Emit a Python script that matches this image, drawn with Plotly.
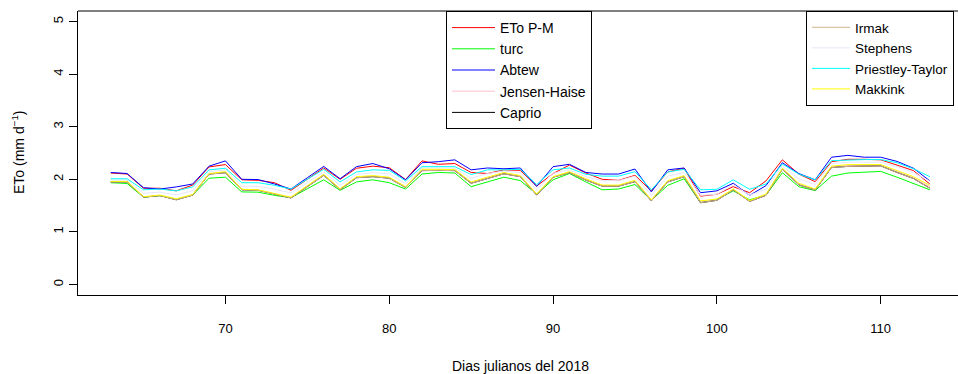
import plotly.graph_objects as go

days = list(range(63, 114))

eto_pm = [2.12, 2.10, 1.83, 1.83, 1.78, 1.89, 2.235, 2.28, 1.99, 1.98, 1.935, 1.79, 2.00, 2.215, 2.00, 2.21, 2.25, 2.22, 1.995, 2.35,
          2.285, 2.30, 2.13, 2.11, 2.18, 2.17, 1.87, 2.11, 2.27, 2.12, 2.00, 1.98, 2.075, 1.78, 2.14, 2.21, 1.68, 1.715, 1.86, 1.745,
          1.97, 2.37, 2.10, 1.955, 2.335, 2.38, 2.38, 2.37, 2.27, 2.165, 1.91]
turc = [1.935, 1.92, 1.66, 1.69, 1.62, 1.70, 2.02, 2.04, 1.76, 1.755, 1.695, 1.65, 1.82, 1.99, 1.79, 1.95, 1.99, 1.935, 1.815, 2.10,
        2.13, 2.12, 1.86, 1.95, 2.04, 1.975, 1.72, 1.99, 2.11, 1.95, 1.80, 1.815, 1.90, 1.60, 1.885, 2.01, 1.555, 1.62, 1.78, 1.61,
        1.70, 2.125, 1.86, 1.785, 2.06, 2.12, 2.14, 2.15, 2.04, 1.925, 1.80]
abtew = [2.13, 2.11, 1.84, 1.815, 1.855, 1.91, 2.25, 2.35, 2.00, 1.995, 1.91, 1.815, 2.03, 2.245, 2.01, 2.24, 2.30, 2.20, 1.99, 2.315,
         2.335, 2.37, 2.18, 2.215, 2.20, 2.215, 1.865, 2.24, 2.285, 2.13, 2.10, 2.10, 2.195, 1.76, 2.18, 2.215, 1.745, 1.78, 1.925, 1.695,
         1.88, 2.315, 2.11, 1.99, 2.42, 2.455, 2.42, 2.42, 2.34, 2.21, 1.97]
jensen_haise = [1.955, 1.955, 1.665, 1.695, 1.62, 1.705, 2.105, 2.135, 1.805, 1.795, 1.725, 1.65, 1.87, 2.085, 1.81, 2.04, 2.06, 2.03, 1.85, 2.175,
                2.18, 2.175, 1.935, 2.025, 2.115, 2.06, 1.71, 2.045, 2.135, 1.995, 1.88, 1.88, 1.965, 1.60, 1.96, 2.06, 1.57, 1.61, 1.805, 1.585,
                1.705, 2.20, 1.91, 1.805, 2.235, 2.26, 2.265, 2.265, 2.145, 2.03, 1.855]
caprio = [1.95, 1.95, 1.66, 1.69, 1.61, 1.70, 2.10, 2.125, 1.80, 1.79, 1.72, 1.645, 1.86, 2.075, 1.80, 2.03, 2.05, 2.02, 1.845, 2.165,
          2.17, 2.165, 1.925, 2.015, 2.105, 2.05, 1.70, 2.04, 2.125, 1.985, 1.87, 1.87, 1.955, 1.59, 1.95, 2.05, 1.555, 1.60, 1.80, 1.58,
          1.695, 2.195, 1.895, 1.795, 2.225, 2.245, 2.25, 2.255, 2.13, 2.015, 1.83]
irmak = [1.95, 1.95, 1.66, 1.69, 1.61, 1.70, 2.10, 2.125, 1.80, 1.79, 1.72, 1.645, 1.86, 2.075, 1.80, 2.03, 2.05, 2.02, 1.845, 2.165,
         2.17, 2.165, 1.925, 2.015, 2.105, 2.05, 1.70, 2.04, 2.125, 1.985, 1.87, 1.87, 1.955, 1.59, 1.95, 2.05, 1.555, 1.60, 1.80, 1.58,
         1.695, 2.195, 1.895, 1.795, 2.225, 2.245, 2.25, 2.255, 2.13, 2.015, 1.83]
stephens = [1.985, 1.985, 1.735, 1.755, 1.705, 1.78, 2.145, 2.18, 1.87, 1.865, 1.81, 1.74, 1.94, 2.14, 1.885, 2.095, 2.125, 2.105, 1.915, 2.215,
            2.215, 2.21, 2.02, 2.11, 2.155, 2.13, 1.81, 2.115, 2.18, 2.05, 1.975, 1.975, 2.06, 1.70, 2.06, 2.13, 1.695, 1.715, 1.90, 1.70,
            1.815, 2.25, 2.01, 1.90, 2.30, 2.325, 2.325, 2.325, 2.24, 2.125, 1.965]
priestley_taylor = [2.01, 2.01, 1.80, 1.815, 1.78, 1.855, 2.18, 2.21, 1.935, 1.935, 1.885, 1.815, 2.00, 2.19, 1.95, 2.14, 2.18, 2.17, 1.97, 2.24,
                    2.24, 2.24, 2.09, 2.18, 2.18, 2.19, 1.90, 2.18, 2.215, 2.095, 2.06, 2.06, 2.145, 1.80, 2.14, 2.19, 1.80, 1.81, 1.99, 1.81,
                    1.91, 2.29, 2.10, 1.99, 2.355, 2.37, 2.375, 2.375, 2.315, 2.20, 2.05]
makkink = [1.96, 1.96, 1.67, 1.70, 1.63, 1.71, 2.11, 2.145, 1.81, 1.80, 1.73, 1.66, 1.88, 2.095, 1.82, 2.05, 2.07, 2.04, 1.86, 2.19,
           2.19, 2.185, 1.95, 2.04, 2.13, 2.07, 1.72, 2.05, 2.145, 2.01, 1.89, 1.89, 1.98, 1.61, 1.975, 2.07, 1.59, 1.625, 1.815, 1.595,
           1.72, 2.21, 1.925, 1.815, 2.25, 2.28, 2.28, 2.28, 2.165, 2.05, 1.885]

series = [
    ("ETo P-M", eto_pm, "#FF0000", "legend"),
    ("turc", turc, "#00FF00", "legend"),
    ("Abtew", abtew, "#0000FF", "legend"),
    ("Jensen-Haise", jensen_haise, "#FFC0CB", "legend"),
    ("Caprio", caprio, "#000000", "legend"),
    ("Irmak", irmak, "#D2B48C", "legend2"),
    ("Stephens", stephens, "#E6E6FA", "legend2"),
    ("Priestley-Taylor", priestley_taylor, "#00FFFF", "legend2"),
    ("Makkink", makkink, "#FFFF00", "legend2"),
]

x_ticks = [70, 80, 90, 100, 110]
y_ticks = [0, 1, 2, 3, 4, 5]

FONT = "Liberation Sans, Arial, sans-serif"

fig = go.Figure()
for name, vals, color, leg in series:
    fig.add_trace(go.Scatter(x=days, y=vals, mode="lines", name=name,
                             line=dict(color=color, width=1), legend=leg))

fig.update_layout(
    width=958, height=374,
    margin=dict(l=78, r=0, t=11, b=79),
    paper_bgcolor="white", plot_bgcolor="white",
    font=dict(family=FONT, size=14, color="black"),
    showlegend=True,
    legend=dict(x=(446 - 78) / 880, y=1, xanchor="left", yanchor="top",
                bordercolor="black", borderwidth=1, bgcolor="white",
                font=dict(size=14), itemwidth=43, tracegroupgap=0),
    legend2=dict(x=(806 - 78) / 880, y=1, xanchor="left", yanchor="top",
                 bordercolor="black", borderwidth=1, bgcolor="white",
                 font=dict(size=13.5), itemwidth=38, tracegroupgap=0),
    xaxis=dict(range=[61, 114.72], tickmode="array", tickvals=x_ticks,
               ticktext=[str(v) for v in x_ticks],
               showgrid=False, zeroline=False, showline=True, linecolor="black",
               linewidth=1, ticks="outside", ticklen=8, tickcolor="black",
               ticklabelstandoff=13, tickfont=dict(size=13)),
    yaxis=dict(range=[-0.2, 5.2], tickmode="array", tickvals=y_ticks,
               ticktext=[str(v) for v in y_ticks],
               showgrid=False, zeroline=False, showline=True, linecolor="black",
               linewidth=1, ticks="outside", ticklen=8, tickcolor="black",
               tickangle=-90, ticklabelstandoff=1, tickfont=dict(size=13)),
    shapes=[dict(type="line", xref="paper", yref="paper", x0=0, x1=1, y0=1, y1=1,
                 line=dict(color="black", width=1))],
    annotations=[
        dict(text="Dias julianos del 2018", xref="paper", yref="paper",
             x=(520 - 78) / 880, y=-(366 - 295) / 284, xanchor="center", yanchor="middle",
             showarrow=False, font=dict(size=14)),
        dict(text="ETo (mm d<sup>−1</sup>)", xref="paper", yref="paper",
             x=-(78 - 18) / 880, y=(295 - 152) / 284, xanchor="center", yanchor="middle",
             textangle=-90, showarrow=False, font=dict(size=14)),
    ],
)

fig.write_html("out.html")
